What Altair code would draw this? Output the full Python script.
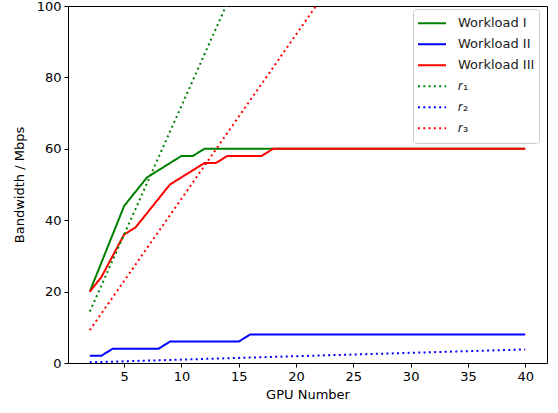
import altair as alt
import pandas as pd

gpus = list(range(2, 41))
workload_1 = [20, 28, 36, 44, 48, 52, 54, 56, 58, 58, 60] + [60] * 28
workload_2 = [2, 2, 4, 4, 4, 4, 4, 6, 6, 6, 6, 6, 6, 6, 8] + [8] * 24
workload_3 = [20, 24, 30, 36, 38, 42, 46, 50, 52, 54, 56, 56, 58, 58, 58, 58] + [60] * 23

r_gpus = [2, 40]
r_1 = [14.4, 288.0]
r_2 = [0.19, 3.8]
r_3 = [9.2, 184.0]

series_names = ["Workload I", "Workload II", "Workload III", "𝑟₁", "𝑟₂", "𝑟₃"]
series_colors = ["#008000", "#0000ff", "#ff0000", "#008000", "#0000ff", "#ff0000"]
series_dash = [[1, 0], [1, 0], [1, 0], [2, 3.3], [2, 3.3], [2, 3.3]]

rows = []
for name, vals in zip(series_names[:3], [workload_1, workload_2, workload_3]):
    for g, v in zip(gpus, vals):
        rows.append({"gpu": g, "bw": v, "series": name})
for name, vals in zip(series_names[3:], [r_1, r_2, r_3]):
    for g, v in zip(r_gpus, vals):
        rows.append({"gpu": g, "bw": v, "series": name})
df = pd.DataFrame(rows)

FONT = "DejaVu Sans"

chart = alt.Chart(df).mark_line(clip=True, strokeWidth=2).encode(
    x=alt.X("gpu:Q", title="GPU Number",
            scale=alt.Scale(domain=[0.1, 41.9], nice=False, zero=False),
            axis=alt.Axis(values=[5, 10, 15, 20, 25, 30, 35, 40], grid=False,
                          tickSize=4, tickColor="black", domain=False,
                          labelColor="black", labelFontSize=13, labelFont=FONT,
                          titleFont=FONT, titleFontSize=13, titleFontWeight="normal",
                          titleColor="black", labelPadding=3, titlePadding=5)),
    y=alt.Y("bw:Q", title="Bandwidth / Mbps",
            scale=alt.Scale(domain=[0, 100], nice=False),
            axis=alt.Axis(values=[0, 20, 40, 60, 80, 100], grid=False,
                          tickSize=4, tickColor="black", domain=False,
                          labelColor="black", labelFontSize=13, labelFont=FONT,
                          titleFont=FONT, titleFontSize=13, titleFontWeight="normal",
                          titleColor="black", labelPadding=3, titlePadding=10)),
    color=alt.Color("series:N",
                    scale=alt.Scale(domain=series_names, range=series_colors),
                    legend=alt.Legend(title=None, orient="none", legendX=345, legendY=3,
                                      symbolType="stroke", symbolSize=784,
                                      symbolStrokeWidth=2, labelFont=FONT,
                                      labelFontSize=13, labelColor="#222222",
                                      strokeColor="#cccccc", fillColor="white",
                                      padding=4, cornerRadius=3, rowPadding=0,
                                      clipHeight=20.5, labelOffset=11)),
    strokeDash=alt.StrokeDash("series:N",
                              scale=alt.Scale(domain=series_names, range=series_dash),
                              legend=None),
    detail="series:N",
).properties(
    width=479, height=357,
    padding={"left": 68, "top": 6, "right": 11, "bottom": 50},
    autosize=alt.AutoSizeParams(type="none"),
).configure_view(stroke="black", strokeWidth=1)

chart.save("out.html", embed_options={"renderer": "svg", "actions": False})
